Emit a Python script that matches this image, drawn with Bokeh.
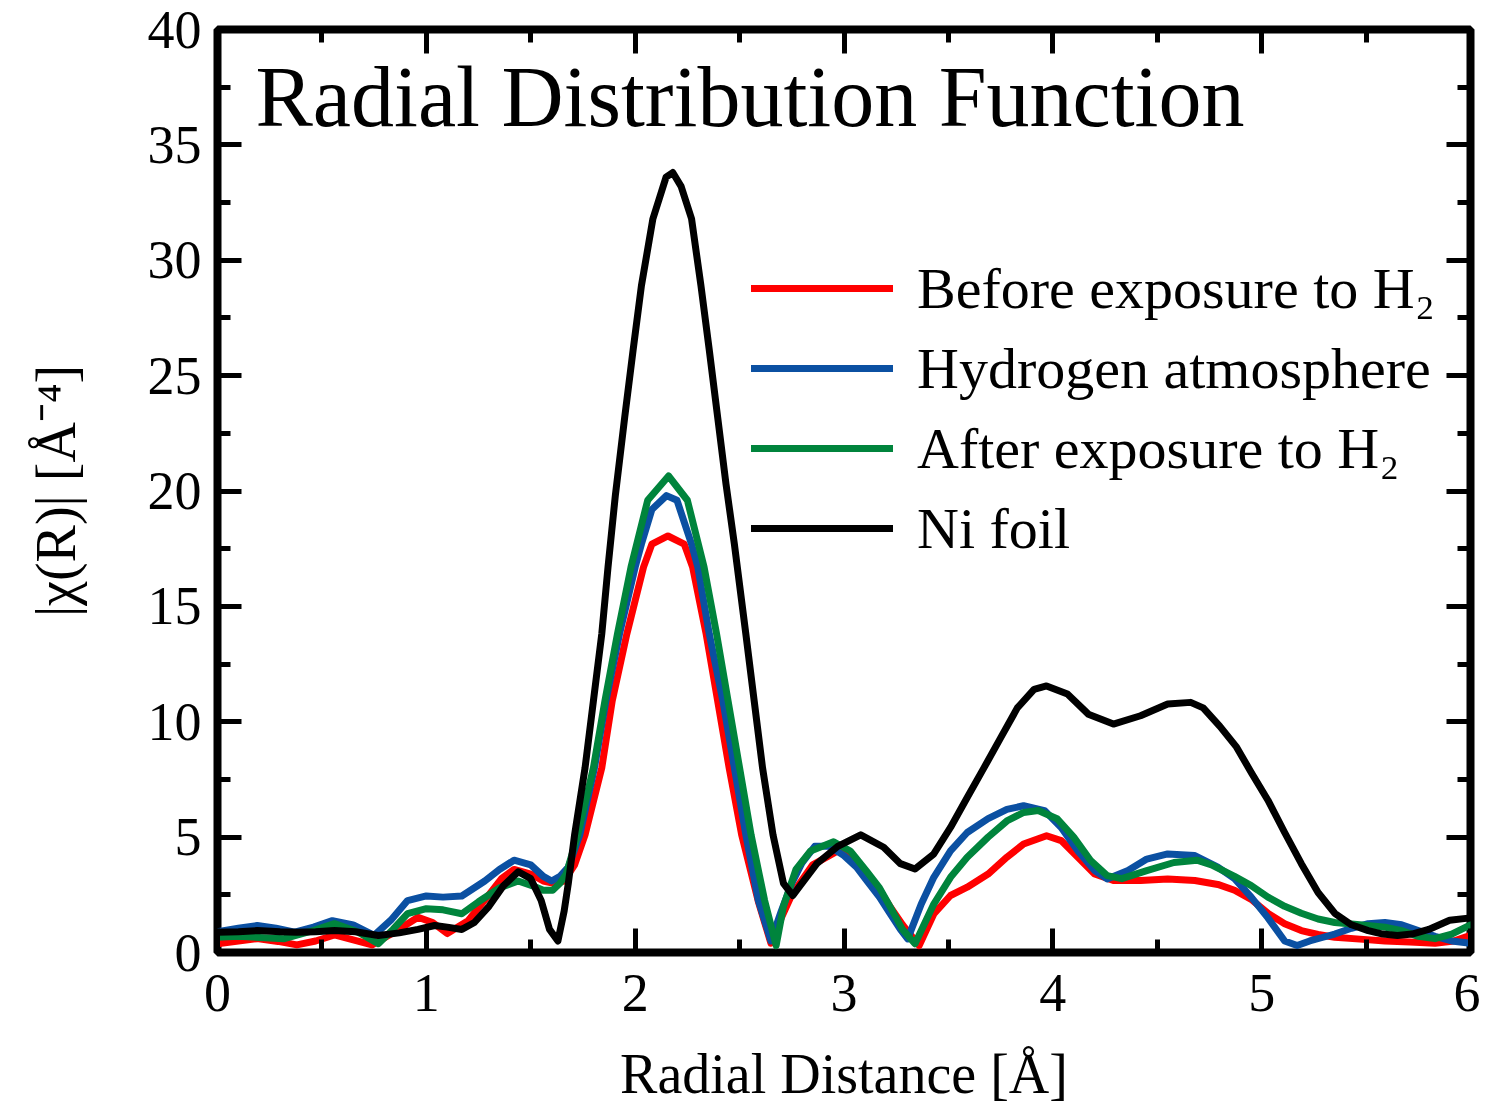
from bokeh.plotting import figure
from bokeh.models import (Range1d, SingleIntervalTicker, LinearAxis, Legend, LegendItem, Label)
from bokeh.embed import file_html
from bokeh.resources import INLINE

# ---------------- data ----------------
ni_x = [0, 0.1, 0.19, 0.3, 0.38, 0.47, 0.56, 0.66, 0.77, 0.87, 0.96, 1.04, 1.1, 1.17, 1.23, 1.3, 1.37,
        1.44, 1.5, 1.55, 1.59, 1.63, 1.66, 1.68, 1.71, 1.76, 1.80, 1.84, 1.87, 1.905, 1.95, 1.99, 2.03,
        2.085, 2.148, 2.18, 2.22, 2.27, 2.315, 2.355, 2.395, 2.435, 2.475, 2.53, 2.57, 2.61, 2.66,
        2.71, 2.755, 2.79, 2.87, 2.97, 3.08, 3.19, 3.27, 3.34, 3.43, 3.51, 3.59, 3.67, 3.75, 3.83,
        3.91, 3.97, 4.07, 4.17, 4.29, 4.42, 4.55, 4.66, 4.72, 4.8, 4.88, 4.95, 5.03, 5.11, 5.19,
        5.27, 5.35, 5.43, 5.51, 5.58, 5.65, 5.72, 5.8, 5.9, 6.0]
ni_y = [0.88, 0.9, 0.95, 0.9, 0.88, 0.9, 0.95, 0.9, 0.74, 0.85, 1.0, 1.17, 1.1, 1.0, 1.3, 2.0, 2.9,
        3.5, 3.2, 2.25, 1.0, 0.5, 1.8, 3.0, 5.1, 8.0, 10.9, 13.8, 16.7, 19.8, 23.2, 26.1, 28.9,
        31.8, 33.6, 33.8, 33.2, 31.8, 28.9, 26.1, 23.2, 20.3, 17.7, 13.8, 10.9, 8.0, 5.1,
        3.0, 2.47, 2.9, 3.85, 4.6, 5.1, 4.56, 3.85, 3.62, 4.27, 5.42, 6.72, 8.0, 9.3, 10.6,
        11.4, 11.55, 11.2, 10.33, 9.9, 10.26, 10.77, 10.84, 10.6, 9.8, 8.9, 7.8, 6.6, 5.2, 3.85,
        2.6, 1.7, 1.2, 0.95, 0.8, 0.74, 0.8, 1.0, 1.4, 1.5]

h2_x = [0, 0.1, 0.19, 0.28, 0.37, 0.46, 0.55, 0.65, 0.75, 0.83, 0.91, 1.0, 1.08, 1.17, 1.28, 1.35,
        1.42, 1.5, 1.56, 1.60, 1.64, 1.68, 1.735, 1.805, 1.86, 1.925, 2.00, 2.03, 2.08, 2.15, 2.20,
        2.27, 2.30, 2.355, 2.42, 2.475, 2.53, 2.59, 2.65, 2.70, 2.75, 2.80, 2.86, 2.93, 3.0, 3.06,
        3.11, 3.17, 3.22, 3.27, 3.305, 3.37, 3.43, 3.51, 3.59, 3.69, 3.78, 3.86, 3.96, 4.04, 4.12,
        4.20, 4.26, 4.36, 4.45, 4.55, 4.68, 4.79, 4.87, 4.95, 5.03, 5.11, 5.17, 5.23, 5.29, 5.35,
        5.43, 5.51, 5.59, 5.67, 5.75, 5.83, 5.91, 6.0]
h2_y = [0.9, 1.05, 1.17, 1.05, 0.88, 1.1, 1.38, 1.2, 0.74, 1.4, 2.25, 2.45, 2.4, 2.45, 3.1, 3.6,
        4.0, 3.8, 3.3, 3.1, 3.3, 3.7, 5.1, 8.0, 10.9, 13.8, 16.7, 17.7, 19.2, 19.8, 19.6,
        17.7, 16.7, 13.8, 10.9, 8.0, 5.1, 2.25, 0.5, 1.8, 3.0, 3.9, 4.6, 4.6, 4.2, 3.7,
        3.1, 2.4, 1.7, 1.0, 0.59, 2.1, 3.26, 4.4, 5.2, 5.8, 6.2, 6.36, 6.15, 5.42, 4.4,
        3.55, 3.19, 3.55, 4.05, 4.27, 4.2, 3.7, 3.2, 2.4, 1.5, 0.5, 0.3, 0.5, 0.65, 0.8,
        1.05, 1.25, 1.3, 1.2, 0.95, 0.7, 0.5, 0.4]

after_x = [0, 0.1, 0.2, 0.32, 0.44, 0.56, 0.67, 0.77, 0.84, 0.91, 1.0, 1.08, 1.17, 1.25, 1.35, 1.44,
           1.52, 1.56, 1.605, 1.64, 1.67, 1.725, 1.80, 1.855, 1.915, 1.98, 2.06, 2.16, 2.25, 2.33,
           2.39, 2.445, 2.50, 2.555, 2.62, 2.675, 2.71, 2.77, 2.84, 2.95, 3.03, 3.11, 3.17, 3.22,
           3.28, 3.34, 3.43, 3.51, 3.59, 3.69, 3.78, 3.86, 3.93, 4.02, 4.10, 4.18, 4.26, 4.33,
           4.45, 4.58, 4.69, 4.76, 4.87, 4.95, 5.03, 5.11, 5.19, 5.27, 5.35, 5.47, 5.59, 5.67,
           5.75, 5.83, 5.91, 6.0]
after_y = [0.66, 0.7, 0.65, 0.6, 0.9, 1.25, 0.9, 0.38, 1.0, 1.68, 1.9, 1.85, 1.68, 2.2, 2.8, 3.1,
           2.85, 2.7, 2.7, 3.0, 3.4, 5.1, 8.0, 10.9, 13.8, 16.7, 19.6, 20.65, 19.6, 16.7,
           13.8, 10.9, 8.0, 5.1, 2.25, 0.3, 2.0, 3.6, 4.4, 4.8, 4.4, 3.5, 2.8, 2.0,
           1.0, 0.38, 2.1, 3.26, 4.13, 5.0, 5.7, 6.07, 6.15, 5.8, 5.0, 4.0, 3.33, 3.2,
           3.55, 3.9, 4.0, 3.8, 3.3, 2.9, 2.4, 2.0, 1.7, 1.45, 1.3, 1.2, 1.1, 0.95,
           0.7, 0.6, 0.8, 1.2]

before_x = [0, 0.1, 0.19, 0.29, 0.38, 0.47, 0.56, 0.65, 0.74, 0.85, 0.96, 1.03, 1.10, 1.2, 1.3, 1.36,
            1.42, 1.5, 1.56, 1.61, 1.66, 1.71, 1.76, 1.84, 1.89, 1.96, 2.04, 2.08, 2.157, 2.235, 2.275,
            2.34, 2.395, 2.45, 2.51, 2.59, 2.65, 2.70, 2.75, 2.85, 2.97, 3.04, 3.11, 3.17, 3.22, 3.28,
            3.36, 3.43, 3.51, 3.59, 3.69, 3.78, 3.86, 3.97, 4.04, 4.12, 4.20, 4.29, 4.42, 4.55, 4.68,
            4.79, 4.87, 4.95, 5.03, 5.11, 5.19, 5.27, 5.35, 5.47, 5.59, 5.71, 5.83, 5.92, 6.0]
before_y = [0.38, 0.5, 0.6, 0.48, 0.33, 0.5, 0.76, 0.55, 0.33, 0.9, 1.53, 1.3, 0.82, 1.38, 2.5, 3.2,
            3.6, 3.4, 3.1, 3.0, 3.1, 3.8, 5.1, 8.0, 10.9, 13.8, 16.7, 17.7, 18.05, 17.7, 16.7,
            13.8, 10.9, 8.0, 5.1, 2.2, 0.4, 1.5, 2.5, 3.8, 4.4, 4.2, 3.4, 2.7, 2.0, 1.2,
            0.3, 1.67, 2.47, 2.83, 3.4, 4.13, 4.7, 5.06, 4.85, 4.13, 3.4, 3.12, 3.12, 3.19, 3.12,
            2.95, 2.7, 2.3, 1.7, 1.25, 0.95, 0.78, 0.66, 0.58, 0.5, 0.45, 0.4, 0.5, 0.75]

series_labels = ["Before exposure to H\u2082", "Hydrogen atmosphere",
                 "After exposure to H\u2082", "Ni foil"]
series_colors = ["#ff0000", "#0b50a2", "#00843c", "#000000"]
title_text = "Radial Distribution Function"
x_label = "Radial Distance [\u00c5]"
y_label = "|\u03c7(R)| [\u00c5\u207b\u2074]"

FONT = "Liberation Serif"

p = figure(width=1480, height=1107, output_backend="svg", toolbar_location=None,
           x_range=Range1d(0, 6), y_range=Range1d(0, 40),
           min_border_left=217, min_border_right=10, min_border_top=29, min_border_bottom=155)
p.background_fill_color = "white"
p.border_fill_color = "white"
p.outline_line_color = "black"
p.outline_line_width = 8
p.grid.visible = False

renderers = []
for xs, ys, c in zip([before_x, h2_x, after_x, ni_x], [before_y, h2_y, after_y, ni_y], series_colors):
    r = p.line(xs, ys, line_color=c, line_width=7, line_join="round", line_cap="round")
    renderers.append(r)

def style_axis(ax, show_labels=True):
    ax.axis_line_color = None
    ax.major_tick_in = 24
    ax.major_tick_out = 0
    ax.minor_tick_in = 13
    ax.minor_tick_out = 0
    ax.major_tick_line_width = 5
    ax.minor_tick_line_width = 5
    ax.major_tick_line_color = "black"
    ax.minor_tick_line_color = "black"
    ax.major_label_text_font = FONT
    ax.major_label_text_font_size = "54px" if show_labels else "0px"
    ax.major_label_text_color = "black" if show_labels else None
    ax.axis_label_text_font = FONT
    ax.axis_label_text_font_size = "56px"
    ax.axis_label_text_font_style = "normal"
    ax.axis_label_text_color = "black"

p.xaxis.ticker = SingleIntervalTicker(interval=1, num_minor_ticks=2)
p.yaxis.ticker = SingleIntervalTicker(interval=5, num_minor_ticks=2)
p.xaxis.axis_label = x_label
p.yaxis.axis_label = y_label
for ax in p.xaxis + p.yaxis:
    style_axis(ax)
p.xaxis.major_label_standoff = 22
p.yaxis.major_label_standoff = 16
p.xaxis.axis_label_standoff = 29
p.yaxis.axis_label_standoff = 58

top = LinearAxis(ticker=SingleIntervalTicker(interval=1, num_minor_ticks=2))
right = LinearAxis(ticker=SingleIntervalTicker(interval=5, num_minor_ticks=2))
for ax in (top, right):
    style_axis(ax, show_labels=False)
    ax.major_label_standoff = 0
p.add_layout(top, "above")
p.add_layout(right, "right")

legend = Legend(items=[LegendItem(label=l, renderers=[r]) for l, r in zip(series_labels, renderers)],
                location=(534, 388), orientation="vertical",
                glyph_width=142, glyph_height=72, label_height=72, label_standoff=24, spacing=8,
                padding=0, margin=0, border_line_color=None, background_fill_alpha=0,
                label_text_font=FONT, label_text_font_size="58px", label_text_color="black")
p.add_layout(legend, "center")

p.add_layout(Label(x=38, y=856, x_units="screen", y_units="screen", text=title_text,
                   text_font=FONT, text_font_size="86px", text_color="black",
                   text_baseline="alphabetic"))

open("out.html", "w").write(file_html(p, INLINE))
